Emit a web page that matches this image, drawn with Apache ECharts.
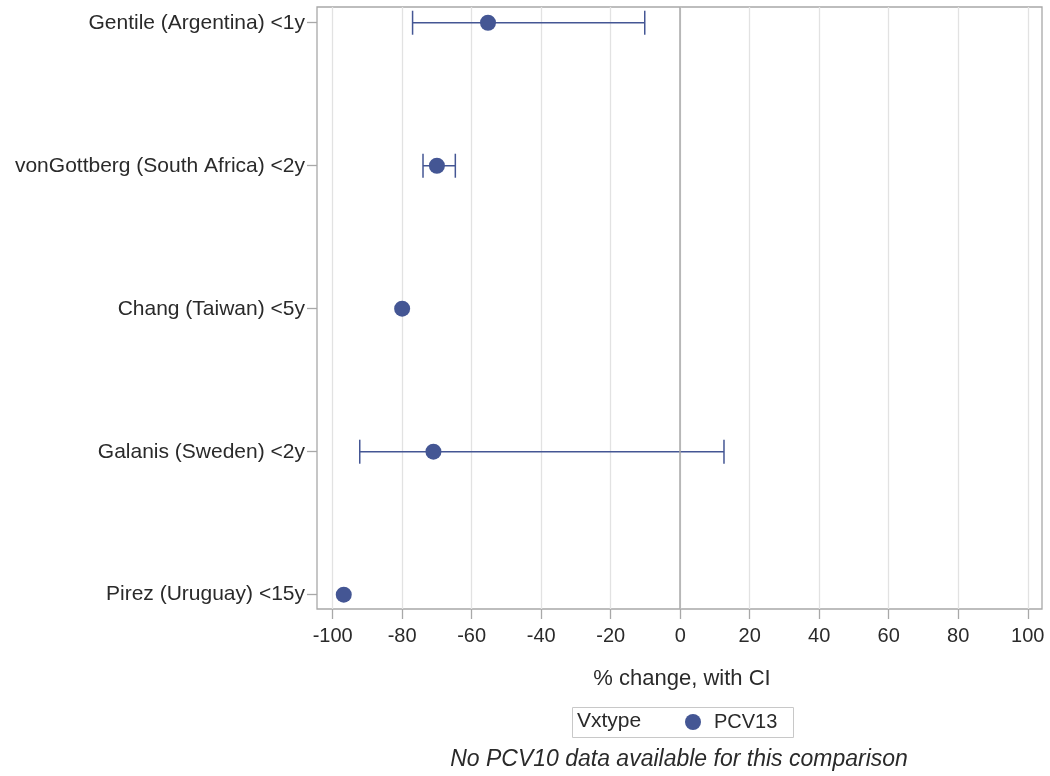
<!DOCTYPE html>
<html>
<head>
<meta charset="utf-8">
<script src="https://cdn.jsdelivr.net/npm/echarts@6/dist/echarts.min.js"></script>
<style>html,body{margin:0;padding:0;background:#fff}#c{width:1050px;height:776px}</style>
</head>
<body>
<div id="c"></div>
<script>
const studies = ['Gentile (Argentina) <1y','vonGottberg (South Africa) <2y','Chang (Taiwan) <5y','Galanis (Sweden) <2y','Pirez (Uruguay) <15y'];
const estimate = [-55.3, -70, -80, -71, -96.8];
const lowerCI = [-77, -74, null, -92.2, null];
const upperCI = [-10.2, -64.7, null, 12.6, null];
const xTicks = [-100,-80,-60,-40,-20,0,20,40,60,80,100];
const yTicks = [0,1,2,3,4];
const seriesName = 'PCV13';
const color = '#445694';
const font = '"Liberation Sans", Arial, sans-serif';

const chart = echarts.init(document.getElementById('c'), null, {renderer:'canvas'});
const errData = [];
studies.forEach((s,i)=>{ if(lowerCI[i]!=null) errData.push([i, lowerCI[i], upperCI[i]]); });
const ptData = studies.map((s,i)=>[estimate[i], i]);

chart.setOption({
  animation:false,
  grid:{left:317,right:8,top:7,bottom:167,show:true,borderColor:'#a8a8a8',borderWidth:1.3,containLabel:false},
  xAxis:{type:'value',min:-104.5,max:104.1,
    axisLine:{show:false,onZero:false},
    axisTick:{show:true,length:10,lineStyle:{color:'#a8a8a8',width:1.3},customValues:xTicks},
    axisLabel:{customValues:xTicks,color:'#2a2a2a',fontSize:20,fontFamily:font,margin:17},
    splitLine:{show:true,lineStyle:{color:'#e2e2e2',width:1.3}}
  },
  yAxis:{type:'value',inverse:true,min:-0.11,max:4.1,
    axisLine:{show:false,onZero:false},
    axisTick:{show:true,length:10,lineStyle:{color:'#a8a8a8',width:1.3},customValues:yTicks},
    axisLabel:{customValues:yTicks,color:'#2a2a2a',fontSize:21,fontFamily:font,margin:12,formatter:v=>studies[Math.round(v)]},
    splitLine:{show:false}
  },
  legend:{left:680,top:707,itemWidth:16,itemHeight:16,icon:'circle',itemGap:6,
    textStyle:{fontSize:20,fontFamily:font,color:'#2a2a2a',padding:[0,0,0,8]},data:[seriesName]},
  graphic:[
    {type:'rect',left:570,top:705,shape:{width:221,height:30},style:{fill:'none',stroke:'#c8c8c8',lineWidth:1}},
    {type:'text',x:577,y:721,style:{text:'Vxtype',fontSize:21,fontFamily:font,fill:'#2a2a2a',verticalAlign:'middle'}},
    {type:'text',x:682,y:679,style:{text:'% change, with CI',fontSize:22,fontFamily:font,fill:'#2a2a2a',align:'center',verticalAlign:'middle'}},
    {type:'text',x:679,y:760,style:{text:'No PCV10 data available for this comparison',fontSize:23,fontStyle:'italic',fontFamily:font,fill:'#2a2a2a',align:'center',verticalAlign:'middle'}}
  ],
  series:[
    {type:'custom',name:'ci',data:errData,z:2,silent:true,
      renderItem:function(params,api){
        const y=api.value(0), lo=api.coord([api.value(1),y]), hi=api.coord([api.value(2),y]);
        const h=12, st={stroke:color,lineWidth:1.5};
        return {type:'group',children:[
          {type:'line',shape:{x1:lo[0],y1:lo[1],x2:hi[0],y2:hi[1]},style:st},
          {type:'line',shape:{x1:lo[0],y1:lo[1]-h,x2:lo[0],y2:lo[1]+h},style:st},
          {type:'line',shape:{x1:hi[0],y1:hi[1]-h,x2:hi[0],y2:hi[1]+h},style:st}
        ]};
      },
      markLine:{silent:true,symbol:'none',label:{show:false},lineStyle:{color:'#a8a8a8',width:1.5,type:'solid'},data:[{xAxis:0}]}
    },
    {type:'scatter',name:seriesName,data:ptData,symbol:'circle',symbolSize:16,z:3,itemStyle:{color:color,opacity:1}}
  ]
});
</script>
</body>
</html>
